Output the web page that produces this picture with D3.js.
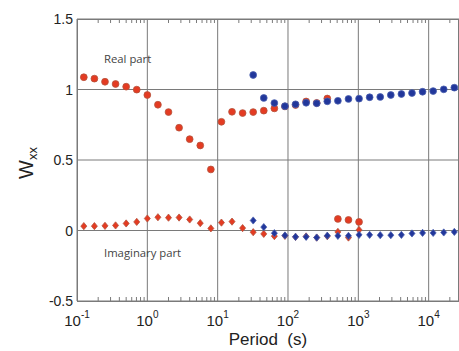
<!DOCTYPE html>
<html>
<head>
<meta charset="utf-8">
<script src="https://cdn.jsdelivr.net/npm/d3@7"></script>
<style>
  body { margin: 0; background: #fff; }
  svg { display: block; }
</style>
</head>
<body>
<div id="chart"></div>
<script>
// Periods: 0.125 s * sqrt(2)^k
const periods = d3.range(0, 36).map(k => 0.125 * Math.pow(Math.SQRT2, k));

// red series, k = 0..26
const redReal = [1.087, 1.077, 1.055, 1.039, 1.02, 0.999, 0.961, 0.892, 0.84, 0.729,
  0.648, 0.603, 0.433, 0.771, 0.842, 0.833, 0.840, 0.85, 0.866, 0.88,
  0.89, 0.915, 0.905, 0.936, 0.082, 0.075, 0.061];
const redImag = [0.031, 0.031, 0.033, 0.036, 0.05, 0.061, 0.085, 0.094, 0.091, 0.092,
  0.078, 0.052, 0.015, 0.056, 0.063, 0.017, -0.012, -0.024, -0.04, -0.038,
  -0.045, -0.042, -0.05, -0.04, -0.01, -0.05, 0.004];

// blue series, k = 16..35
const blueStart = 16;
const blueReal = [1.103, 0.94, 0.904, 0.882, 0.895, 0.906, 0.902, 0.916, 0.920, 0.933,
  0.935, 0.945, 0.947, 0.961, 0.968, 0.975, 0.984, 0.989, 1.001, 1.013];
const blueImag = [0.071, 0.024, -0.019, -0.035, -0.045, -0.045, -0.05, -0.037, -0.038, -0.038,
  -0.031, -0.031, -0.033, -0.033, -0.031, -0.021, -0.017, -0.017, -0.014, -0.01];

const yTicks = [-0.5, 0, 0.5, 1, 1.5];
const xExponents = [-1, 0, 1, 2, 3, 4];

const margin = { top: 19, right: 0, bottom: 50, left: 77 };
const width = 459 - margin.left - margin.right;
const height = 351 - margin.top - margin.bottom;

const svg = d3.select("#chart")
  .append("svg")
  .attr("width", 459)
  .attr("height", 351);

const g = svg.append("g")
  .attr("transform", `translate(${margin.left},${margin.top})`);

// Scales
const x = d3.scaleLog().domain([0.1, 2.7e4]).range([0, width]);
const y = d3.scaleLinear().domain([-0.5, 1.5]).range([height, 0]);

const gridColor = "#7a7a7a";

// Grid lines
g.selectAll(".vgrid")
  .data(xExponents)
  .enter()
  .append("line")
  .attr("x1", d => x(Math.pow(10, d)))
  .attr("x2", d => x(Math.pow(10, d)))
  .attr("y1", 0)
  .attr("y2", height)
  .attr("stroke", gridColor)
  .attr("stroke-width", 1);

g.selectAll(".hgrid")
  .data(yTicks)
  .enter()
  .append("line")
  .attr("x1", 0)
  .attr("x2", width)
  .attr("y1", d => y(d))
  .attr("y2", d => y(d))
  .attr("stroke", gridColor)
  .attr("stroke-width", 1);

// Minor ticks on top and bottom (inside)
const minor = [];
xExponents.forEach(e => {
  for (let m = 2; m <= 9; m++) {
    const v = m * Math.pow(10, e);
    if (v <= x.domain()[1]) minor.push(v);
  }
});
g.selectAll(".mtickb")
  .data(minor)
  .enter()
  .append("line")
  .attr("x1", d => x(d))
  .attr("x2", d => x(d))
  .attr("y1", height)
  .attr("y2", height - 4)
  .attr("stroke", gridColor);
g.selectAll(".mtickt")
  .data(minor)
  .enter()
  .append("line")
  .attr("x1", d => x(d))
  .attr("x2", d => x(d))
  .attr("y1", 0)
  .attr("y2", 4)
  .attr("stroke", gridColor);

// Frame
g.append("rect")
  .attr("x", 0.5)
  .attr("y", 0.5)
  .attr("width", width - 1)
  .attr("height", height)
  .attr("fill", "none")
  .attr("stroke", gridColor);

// Y tick labels
g.selectAll(".ylab")
  .data(yTicks)
  .enter()
  .append("text")
  .attr("x", -4)
  .attr("y", d => y(d) + 5)
  .attr("text-anchor", "end")
  .style("font-family", "Liberation Sans, Arial, sans-serif")
  .style("font-size", "14px")
  .attr("fill", "#222")
  .text(d => d);

// X tick labels: 10^e
const xl = g.selectAll(".xlab")
  .data(xExponents)
  .enter()
  .append("text")
  .attr("x", d => x(Math.pow(10, d)))
  .attr("y", height + 25)
  .attr("text-anchor", "middle")
  .style("font-family", "Liberation Sans, Arial, sans-serif")
  .style("font-size", "15px")
  .attr("fill", "#222");
xl.append("tspan").text("10");
xl.append("tspan")
  .attr("dy", -8)
  .style("font-size", "10px")
  .text(d => d);

// Axis titles
svg.append("text")
  .attr("x", 268)
  .attr("y", 345)
  .attr("text-anchor", "middle")
  .style("font-family", "Liberation Sans, Arial, sans-serif")
  .style("font-size", "17px")
  .attr("fill", "#222")
  .attr("xml:space", "preserve")
  .text("Period  (s)");

const yTitle = svg.append("text")
  .attr("transform", "translate(33,163) rotate(-90)")
  .attr("text-anchor", "middle")
  .style("font-family", "Liberation Sans, Arial, sans-serif")
  .style("font-size", "20px")
  .attr("fill", "#222");
yTitle.append("tspan").text("W");
yTitle.append("tspan")
  .attr("dy", 4)
  .style("font-size", "13px")
  .text("xx");

// Annotations
g.append("text")
  .attr("x", 104 - margin.left)
  .attr("y", 63 - margin.top)
  .style("font-family", "Open Sans, sans-serif")
  .style("font-size", "11.3px")
  .attr("fill", "#444")
  .text("Real part");
g.append("text")
  .attr("x", 104 - margin.left)
  .attr("y", 257 - margin.top)
  .style("font-family", "Open Sans, sans-serif")
  .style("font-size", "11.3px")
  .attr("fill", "#444")
  .text("Imaginary part");

// Markers
const red = "#e43b22", redEdge = "#b5543e";
const blue = "#22379b", blueEdge = "#4a5fae";
const diamond = "M0,-3.6L3,0L0,3.6L-3,0Z";

const redPts = (vals) => vals.map((v, i) => ({ t: periods[i], v }));
const bluePts = (vals) => vals.map((v, i) => ({ t: periods[i + blueStart], v }));

function circles(data, fill, edge) {
  g.append("g").selectAll("circle")
    .data(data)
    .enter()
    .append("circle")
    .attr("cx", d => x(d.t))
    .attr("cy", d => y(d.v))
    .attr("r", 3.4)
    .attr("fill", fill)
    .attr("stroke", edge)
    .attr("stroke-width", 0.8);
}
function diamonds(data, fill, edge) {
  g.append("g").selectAll("path")
    .data(data)
    .enter()
    .append("path")
    .attr("d", diamond)
    .attr("transform", d => `translate(${x(d.t)},${y(d.v)})`)
    .attr("fill", fill)
    .attr("stroke", edge)
    .attr("stroke-width", 0.8);
}

circles(redPts(redReal), red, redEdge);
circles(bluePts(blueReal), blue, blueEdge);
diamonds(redPts(redImag), red, redEdge);
diamonds(bluePts(blueImag), blue, blueEdge);
</script>
</body>
</html>
